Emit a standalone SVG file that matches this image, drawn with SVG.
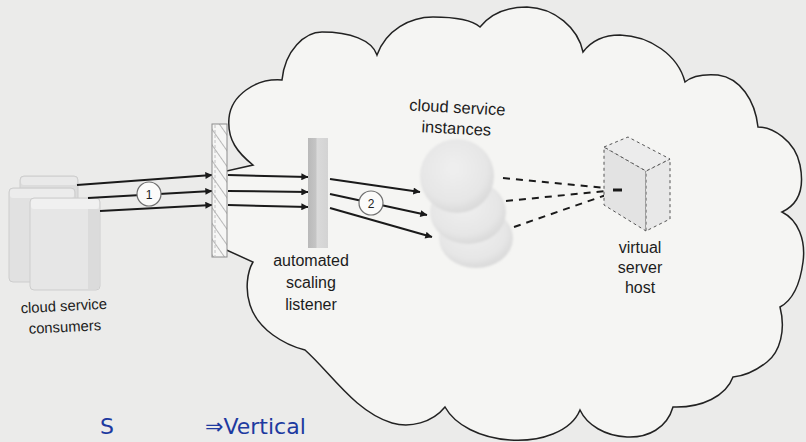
<svg xmlns="http://www.w3.org/2000/svg" width="806" height="442" viewBox="0 0 806 442">
  <defs>
    <style>
      .lbl { font-family: "Liberation Sans", Arial, sans-serif; fill: #1c1c1c; text-anchor: middle; }
      .flow { stroke: #1a1a1a; stroke-width: 2; fill: none; marker-end: url(#ah); }
      .dash { stroke: #1a1a1a; stroke-width: 2; fill: none; stroke-dasharray: 7 6; }
      .step { fill: #fbfbfa; stroke: #6f6f6f; stroke-width: 1.2; }
      .stepnum { font-family: "Liberation Sans", Arial, sans-serif; font-size: 12px; fill: #222; text-anchor: middle; }
      .box { stroke: #cdcdcd; stroke-width: 1; }
      .hostface { stroke: #555; stroke-width: 1; stroke-dasharray: 3 3; }
      .note { font-family: "DejaVu Sans", sans-serif; fill: #1d3aa0; }
    </style>
    <marker id="ah" viewBox="0 0 10 10" refX="9.5" refY="5" markerWidth="9" markerHeight="7" markerUnits="userSpaceOnUse" orient="auto">
      <path d="M0,0 L10,5 L0,10 z" fill="#1a1a1a"/>
    </marker>
    <pattern id="hatch" width="9" height="9" patternUnits="userSpaceOnUse" patternTransform="rotate(-35)">
      <rect width="9" height="9" fill="#f6f6f5"/>
      <line x1="0" y1="0" x2="0" y2="9" stroke="#b0b0b0" stroke-width="1.8"/>
    </pattern>
    <linearGradient id="slab" x1="0" y1="0" x2="1" y2="0">
      <stop offset="0" stop-color="#b9b9b9"/>
      <stop offset="0.4" stop-color="#c5c5c5"/>
      <stop offset="0.45" stop-color="#dadada"/>
      <stop offset="1" stop-color="#d3d3d3"/>
    </linearGradient>
    <radialGradient id="orb" cx="0.45" cy="0.4" r="0.6">
      <stop offset="0" stop-color="#efefef"/>
      <stop offset="0.75" stop-color="#e6e6e6"/>
      <stop offset="1" stop-color="#dadada"/>
    </radialGradient>
    <filter id="soft" x="-20%" y="-20%" width="140%" height="140%">
      <feGaussianBlur stdDeviation="1.3"/>
    </filter>
  </defs>

  <!-- page -->
  <rect width="806" height="442" fill="#ebebea"/>

  <!-- cloud boundary -->
  <g id="cloud">
    <path d="M 253,165 C 238,153 227,140 229,118 C 231,96 255,78 282,80 C 285,50 305,32 322,32 C 350,32 372,40 377,55 C 386,30 410,17 433,17 C 455,17 472,20 480,27 C 492,12 510,7 527,7 C 555,8 578,28 583,52 C 592,40 605,35 620,35 C 650,36 678,55 685,82 C 692,76 705,74 718,75 C 740,78 755,100 758,127 C 772,127 795,140 800,165 C 805,190 797,205 782,212 C 798,220 806,240 803,262 C 800,285 793,300 780,307 C 786,330 780,352 767,362 C 757,370 745,376 733,377 C 726,396 702,408 673,407 C 667,428 648,438 627,437 C 605,436 587,425 580,410 C 571,432 540,442 510,440 C 480,438 455,425 445,407 C 432,423 410,428 392,423 C 355,412 330,372 305,350 C 285,345 258,330 250,305 C 245,290 247,272 253,262 L 222,248 L 222,172 Z" fill="#f5f5f3" stroke="#222" stroke-width="1.5"/>
  </g>

  <!-- cloud service consumers -->
  <g id="consumers">
    <rect class="box" x="20" y="176" width="58" height="86" rx="4" fill="#dcdcdc"/>
    <rect x="21" y="177" width="56" height="8" rx="3" fill="#e9e9e9"/>
    <rect class="box" x="9" y="188" width="66" height="94" rx="4" fill="#e1e1e1"/>
    <rect x="10" y="189" width="64" height="9" rx="3" fill="#ececec"/>
    <rect class="box" x="30" y="198" width="70" height="92" rx="4" fill="#e6e6e6"/>
    <rect x="31" y="199" width="68" height="10" rx="3" fill="#f0f0f0"/>
    <rect x="88" y="209" width="11" height="80" fill="#dbdbdb"/>
    <text class="lbl" font-size="14.8" transform="rotate(-3 64 310)"><tspan x="64" y="311">cloud service</tspan><tspan x="64" y="332">consumers</tspan></text>
  </g>

  <!-- connectors -->
  <g id="connectors">
    <line class="flow" x1="77" y1="185" x2="212" y2="175"/>
    <line class="flow" x1="88" y1="198" x2="212" y2="191"/>
    <line class="flow" x1="100" y1="211" x2="212" y2="205"/>
    <line class="flow" x1="228" y1="175" x2="308" y2="177"/>
    <line class="flow" x1="228" y1="191" x2="308" y2="192"/>
    <line class="flow" x1="228" y1="205" x2="308" y2="207"/>
    <line class="flow" x1="330" y1="179" x2="420" y2="192"/>
    <line class="flow" x1="330" y1="194" x2="427" y2="215"/>
    <line class="flow" x1="330" y1="208" x2="432" y2="237"/>
    <line class="dash" x1="503" y1="178" x2="606" y2="188"/>
    <line class="dash" x1="506" y1="201" x2="606" y2="191"/>
    <line class="dash" x1="514" y1="227" x2="606" y2="195"/>
    <g id="step1">
      <circle class="step" cx="149" cy="194" r="12"/>
      <text class="stepnum" x="149" y="198.5">1</text>
    </g>
    <g id="step2">
      <circle class="step" cx="371" cy="203" r="12"/>
      <text class="stepnum" x="371" y="207.5">2</text>
    </g>
  </g>

  <!-- filtering slab at the cloud edge -->
  <g id="edge-slab">
    <rect x="212" y="124" width="15" height="133" fill="url(#hatch)" stroke="#8c8c8c" stroke-width="1"/>
    <line x1="215" y1="125" x2="215" y2="256" stroke="#b5b5b5" stroke-width="0.8" stroke-dasharray="3 2"/>
  </g>

  <!-- automated scaling listener -->
  <g id="listener">
    <rect x="308" y="138" width="20" height="110" fill="url(#slab)"/>
    <text class="lbl" font-size="16"><tspan x="311" y="266">automated</tspan><tspan x="311" y="288">scaling</tspan><tspan x="311" y="310">listener</tspan></text>
  </g>

  <!-- cloud service instances -->
  <g id="instances">
    <g filter="url(#soft)">
      <ellipse cx="476" cy="238" rx="37" ry="30" fill="url(#orb)"/>
      <ellipse cx="468" cy="212" rx="38" ry="32" fill="url(#orb)"/>
      <circle cx="457" cy="176" r="37" fill="url(#orb)"/>
    </g>
    <text class="lbl" font-size="16.5" transform="rotate(3 457 115)"><tspan x="457" y="113">cloud service</tspan><tspan x="457" y="134">instances</tspan></text>
  </g>

  <!-- virtual server host -->
  <g id="server-host">
    <polygon class="hostface" points="604,147 646,171 646,231 604,205" fill="#e3e3e3"/>
    <polygon class="hostface" points="646,171 670,159 670,219 646,231" fill="#e8e8e8"/>
    <polygon class="hostface" points="604,147 628,137 670,159 646,171" fill="#ececec"/>
    <line x1="613" y1="190" x2="622" y2="190" stroke="#1a1a1a" stroke-width="3"/>
    <text class="lbl" font-size="16"><tspan x="640" y="253">virtual</tspan><tspan x="640" y="273">server</tspan><tspan x="640" y="293">host</tspan></text>
  </g>

  <!-- pen note along the bottom margin -->
  <g id="pen-note">
    <text class="note" x="100" y="434" font-size="22">S</text>
    <text class="note" x="205" y="434" font-size="22">⇒Vertical</text>
  </g>
</svg>
